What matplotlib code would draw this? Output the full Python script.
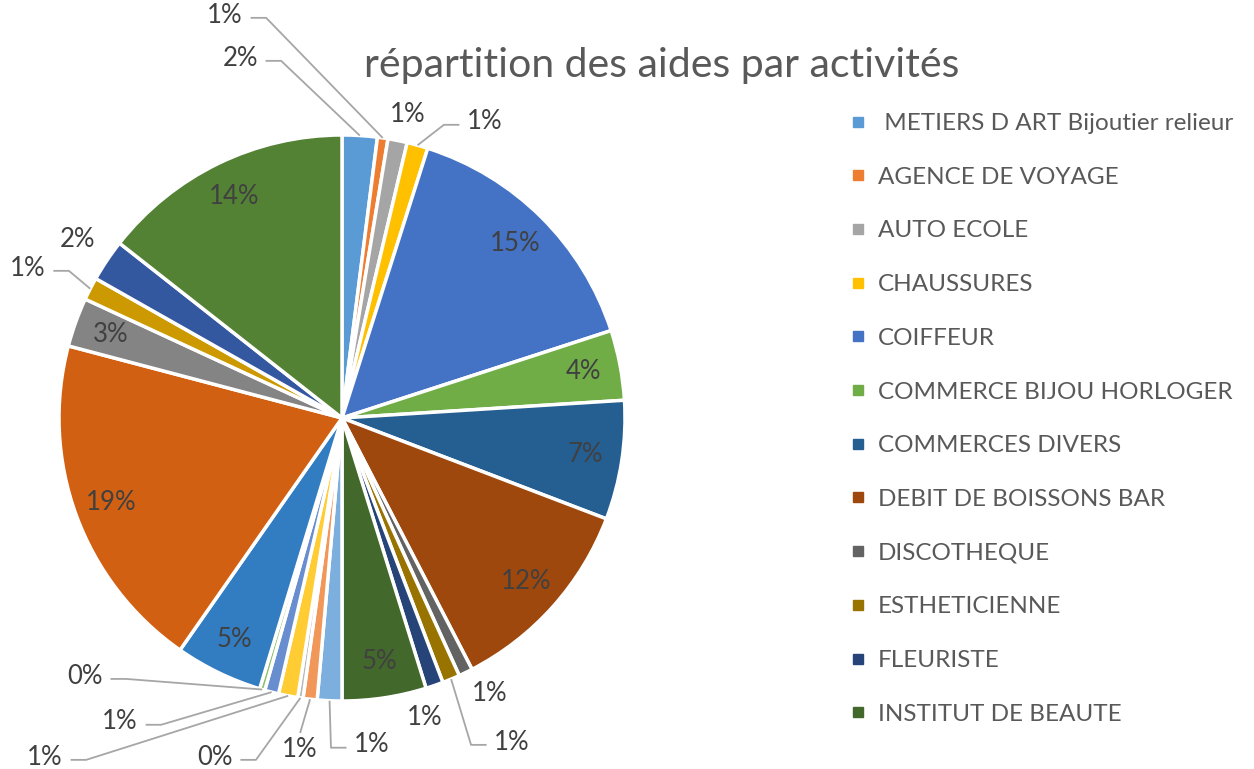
import numpy as np
import matplotlib
matplotlib.use("Agg")
import matplotlib.pyplot as plt
from matplotlib.lines import Line2D

plt.rcParams['font.family'] = ['Lato', 'DejaVu Sans']

titre = "répartition des aides par activités"

# the 12 activities shown in the legend (the pie has more slices than the legend)
activites = [" METIERS D ART Bijoutier relieur", "AGENCE DE VOYAGE", "AUTO ECOLE",
             "CHAUSSURES", "COIFFEUR", "COMMERCE BIJOU HORLOGER", "COMMERCES DIVERS",
             "DEBIT DE BOISSONS BAR", "DISCOTHEQUE", "ESTHETICIENNE", "FLEURISTE",
             "INSTITUT DE BEAUTE"]

# share of each slice in %, clockwise from 12 o'clock
parts = [2.0, 0.6, 1.1, 1.2, 15.1, 4.0, 6.8, 11.6, 0.8, 1.0, 1.0, 4.8,
         1.4, 0.8, 0.3, 1.1, 0.8, 0.3, 5.0, 19.4, 2.8, 1.3, 2.4, 14.4]

couleurs = ["#5B9BD5", "#ED7D31", "#A5A5A5", "#FFC000", "#4472C4", "#70AD47",
            "#255E91", "#9E480E", "#636363", "#997300", "#264478", "#43682B",
            "#7CAFDD", "#F1975A", "#B7B7B7", "#FFCD33", "#698ED0", "#8CC168",
            "#327DC2", "#D26012", "#848484", "#CC9A00", "#3458A0", "#548235"]

# small slices: label spot (pie radius units) and where the leader line leaves the text
etiq_ext = {0: (-0.36, 1.272, 'right'), 1: (-0.413, 1.424, 'right'),
            2: (0.233, 1.071, None), 3: (0.505, 1.046, 'left'),
            8: (0.523, -0.972, None), 9: (0.601, -1.145, 'left'),
            10: (0.293, -1.060, None), 12: (0.106, -1.155, 'left'),
            13: (-0.148, -1.173, 'top'), 14: (-0.449, -1.198, 'right'),
            15: (-1.049, -1.198, 'right'), 16: (-0.784, -1.074, 'right'),
            17: (-0.908, -0.912, 'right'), 21: (-1.110, 0.530, 'right'),
            22: (-0.933, 0.629, None)}

W, H = 1254, 769
cx, cy, R = 342, 418, 283

fig = plt.figure(figsize=(W / 100, H / 100), dpi=100)
ax = fig.add_axes([0, 0, 1, 1])

wedges, _ = ax.pie(parts, colors=couleurs, startangle=90, counterclock=False,
                   wedgeprops=dict(edgecolor='white', linewidth=2.5))

total = sum(parts)
gris_txt = '#404040'
gris_ligne = '#A6A6A6'
for i, w in enumerate(wedges):
    pct = "%d%%" % int(parts[i] / total * 100 + 0.5)
    ang = np.deg2rad((w.theta1 + w.theta2) / 2)
    ex, ey = np.cos(ang), np.sin(ang)
    if i in etiq_ext:
        tx, ty, cote = etiq_ext[i]
        ax.text(tx, ty, pct, ha='center', va='center', fontsize=18.5, color=gris_txt)
        if cote == 'right':
            xs = [tx + 0.09, tx + 0.145, ex]
            ys = [ty - 0.01, ty - 0.01, ey]
        elif cote == 'left':
            xs = [tx - 0.09, tx - 0.145, ex]
            ys = [ty - 0.01, ty - 0.01, ey]
        elif cote == 'top':
            xs = [tx, ex]
            ys = [ty + 0.06, ey]
        else:
            continue
        ax.plot(xs, ys, color=gris_ligne, lw=1.3, solid_capstyle='butt')
    else:
        ax.text(0.87 * ex, 0.87 * ey, pct, ha='center', va='center',
                fontsize=18.5, color=gris_txt)

ax.set_xlim(-cx / R, (W - cx) / R)
ax.set_ylim((cy - H) / R, cy / R)
ax.set_aspect('equal', adjustable='datalim')
ax.axis('off')

fig.text(662 / W, 1 - 65 / H, titre, ha='center', va='center',
         fontsize=29.5, color='#595959')

handles = [Line2D([], [], marker='s', linestyle='none', markersize=7,
                  markerfacecolor=couleurs[i], markeredgecolor=couleurs[i])
           for i in range(len(activites))]
fig.legend(handles, activites, loc='upper left', bbox_to_anchor=(849 / W, 1 - 113 / H),
           frameon=False, fontsize=17.5, labelspacing=1.345, handlelength=0.7,
           handletextpad=0.5, labelcolor='#595959', borderaxespad=0, borderpad=0)

fig.savefig("out.png", dpi=100)
